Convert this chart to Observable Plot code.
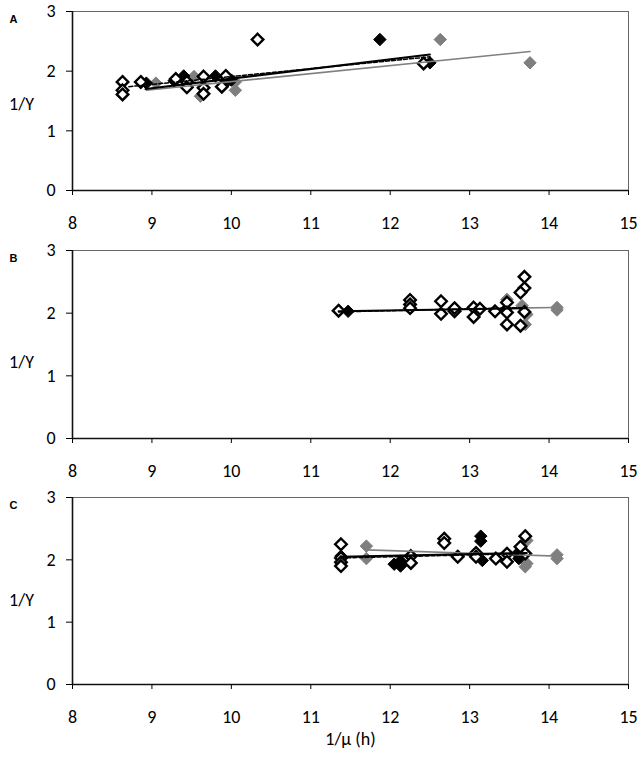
<!DOCTYPE html>
<html><head><meta charset="utf-8">
<script src="https://cdn.jsdelivr.net/npm/d3@7"></script>
<script src="https://cdn.jsdelivr.net/npm/@observablehq/plot@0.6"></script>
<style>
body{margin:0;background:#fff;}
#root{position:relative;width:644px;height:761px;overflow:hidden;background:#fff;}
.panel{position:absolute;left:0;}
</style></head><body><div id="root"></div>
<script>
// ---- text / ticks ----
const xTicks = [8, 9, 10, 11, 12, 13, 14, 15];
const yTicks = [0, 1, 2, 3];
const panelLabels = ["A", "B", "C"];
const yTitle = "1/Y";
const xTitle = "1/μ (h)";

// ---- Panel A data [x, y] ----
const aOpen = [[8.63,1.82],[8.63,1.68],[8.63,1.61],[8.86,1.82],[9.30,1.87],[9.44,1.82],[9.44,1.73],
  [9.65,1.91],[9.65,1.72],[9.65,1.62],[9.93,1.92],[9.88,1.74],[10.33,2.53],[12.42,2.13]];
const aBlack = [[8.93,1.80],[9.28,1.84],[9.40,1.92],[9.80,1.92],[9.90,1.77],[10.00,1.85],[11.87,2.53],[12.50,2.14]];
const aGray = [[9.05,1.80],[9.53,1.91],[9.61,1.58],[10.05,1.82],[10.05,1.68],[12.63,2.53],[13.76,2.14]];
const aSolid = [[8.92,1.70],[12.50,2.28]];
const aDashed = [[8.71,1.74],[12.50,2.24]];
const aGrayLine = [[8.93,1.68],[13.76,2.33]];

// ---- Panel B data ----
const bOpen = [[11.35,2.04],[12.25,2.21],[12.25,2.14],[12.25,2.08],[12.64,2.19],[12.64,1.99],[12.81,2.03],
  [12.81,2.08],[13.05,2.09],[13.05,1.94],[13.13,2.07],[13.32,2.03],[13.47,2.17],[13.47,2.01],[13.47,1.82],
  [13.69,2.58],[13.69,2.40],[13.64,2.33],[13.69,2.02],[13.64,1.80]];
const bBlack = [[11.47,2.03],[13.45,2.05]];
const bGray = [[13.47,2.22],[13.66,2.12],[13.72,1.98],[13.70,1.82],[14.10,2.09],[14.10,2.05]];
const bSolid = [[11.35,2.03],[13.72,2.08]];
const bDashed = [[11.35,2.02],[13.72,2.09]];
const bGrayLine = [[13.45,2.08],[14.10,2.09]];

// ---- Panel C data ----
const cOpen = [[11.38,2.25],[11.38,2.03],[11.38,1.96],[11.38,1.90],[12.26,2.06],[12.26,1.95],[12.68,2.34],
  [12.68,2.27],[12.85,2.05],[13.08,2.11],[13.08,2.05],[13.33,2.02],[13.47,2.10],[13.47,1.97],
  [13.70,2.38],[13.64,2.21],[13.70,2.10]];
const cBlack = [[11.38,2.06],[12.05,1.93],[12.13,1.98],[12.13,1.90],[13.14,2.38],[13.14,2.30],[13.16,1.99],
  [13.60,2.10],[13.62,2.02]];
const cGray = [[11.70,2.22],[11.70,2.02],[13.72,2.31],[13.72,1.94],[13.70,1.89],[14.10,2.02],[14.10,2.08]];
const cSolid = [[11.38,2.05],[13.72,2.11]];
const cDashed = [[11.38,2.03],[13.72,2.10]];
const cGrayLine = [[11.70,2.16],[14.10,2.06]];

const panels = [
  {label: panelLabels[0], open: aOpen, black: aBlack, gray: aGray, solid: aSolid, dashed: aDashed, grayLine: aGrayLine,
   top: 0, height: 240, mt: 11, mb: 50, yTitleAt: 1.45},
  {label: panelLabels[1], open: bOpen, black: bBlack, gray: bGray, solid: bSolid, dashed: bDashed, grayLine: bGrayLine,
   top: 240, height: 250, mt: 10, mb: 52, yTitleAt: 1.22},
  {label: panelLabels[2], open: cOpen, black: cBlack, gray: cGray, solid: cSolid, dashed: cDashed, grayLine: cGrayLine,
   top: 490, height: 271, mt: 7, mb: 77, yTitleAt: 1.35, xTitle: true}
];

const FONT = "Carlito, Lato, 'Open Sans', sans-serif";
const root = document.getElementById("root");
const px = d => d[0], py = d => d[1];
const R = 5.6;

for (const p of panels) {
  const marks = [
    Plot.frame({stroke: "#666", strokeWidth: 1}),
    Plot.ruleY([0], {stroke: "#111", strokeWidth: 1.6}),
    Plot.ruleX([8], {stroke: "#111", strokeWidth: 1.6}),
    Plot.axisX(xTicks, {tickSize: 5, tickPadding: 21, fontSize: 18, label: null, tickFormat: d => String(d)}),
    Plot.axisY(yTicks, {tickSize: 6, tickPadding: 11, fontSize: 18, label: null, tickFormat: d => String(d)}),
    Plot.dot(p.gray, {x: px, y: py, symbol: "diamond2", r: R, fill: "#7f7f7f", stroke: "#7f7f7f", strokeWidth: 1}),
    Plot.dot(p.black, {x: px, y: py, symbol: "diamond2", r: R, fill: "#000", stroke: "#000", strokeWidth: 1}),
    Plot.dot(p.open, {x: px, y: py, symbol: "diamond2", r: R - 0.4, fill: "#fff", stroke: "#000", strokeWidth: 2.4}),
    Plot.line(p.grayLine, {x: px, y: py, stroke: "#808080", strokeWidth: 1.6}),
    Plot.line(p.solid, {x: px, y: py, stroke: "#000", strokeWidth: 2}),
    Plot.line(p.dashed, {x: px, y: py, stroke: "#000", strokeWidth: 1.5, strokeDasharray: "4,2"}),
    Plot.text([p.label], {frameAnchor: "top-left", dx: -63, dy: 4, textAnchor: "start", fontWeight: "bold",
      fontSize: 11, fontFamily: "'Liberation Sans', Arial, sans-serif", fill: "#000"}),
    Plot.text([{t: yTitle, y: p.yTitleAt}], {text: "t", y: "y", frameAnchor: "left", dx: -51,
      textAnchor: "middle", fontSize: 18, fill: "#000"})
  ];
  if (p.xTitle) {
    marks.push(Plot.text([xTitle], {frameAnchor: "bottom", dy: 60, textAnchor: "middle", fontSize: 18, fill: "#000"}));
  }
  const chart = Plot.plot({
    width: 644, height: p.height,
    marginLeft: 72, marginRight: 16, marginTop: p.mt, marginBottom: p.mb,
    x: {domain: [8, 15]},
    y: {domain: [0, 3]},
    style: {fontFamily: FONT, fontSize: "18px", color: "#000", background: "transparent", overflow: "visible"},
    marks
  });
  chart.classList.add("panel");
  chart.style.top = p.top + "px";
  root.appendChild(chart);
}
</script>
</body></html>
